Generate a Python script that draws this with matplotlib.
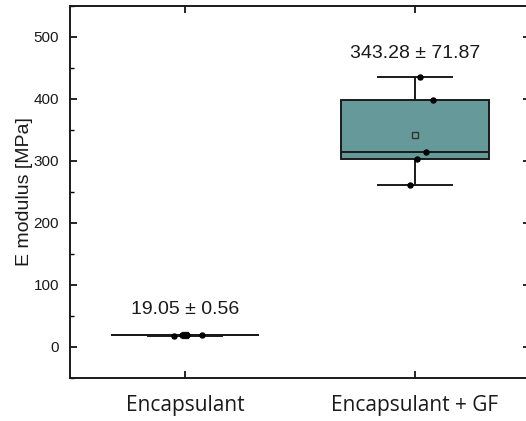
import matplotlib
matplotlib.use("Agg")
import matplotlib.pyplot as plt
import numpy as np
from matplotlib.ticker import MultipleLocator

categories = ["Encapsulant", "Encapsulant + GF"]
enc_values = [18.4, 19.5, 19.15, 19.0, 19.2]
gf_values = [435, 399, 314, 304, 261]
annotations = ["19.05 \u00b1 0.56", "343.28 \u00b1 71.87"]
annot_y = [60, 474]
jitter_enc = [-0.05, -0.012, -0.002, 0.075, 0.01]
jitter_gf = [0.022, 0.079, 0.048, 0.009, -0.022]

fig = plt.figure(figsize=(5.26, 4.21), dpi=100)
ax = fig.add_axes([70/526, 1-378/421, 460/526, 372/421])

box_color = "#669999"
edge = "#1a1a1a"
lw = 1.4
bp = ax.boxplot([enc_values, gf_values], positions=[1, 2], widths=0.646,
                whis=(0, 100), patch_artist=True, showmeans=True,
                showfliers=False,
                boxprops=dict(facecolor=box_color, edgecolor=edge, linewidth=lw),
                medianprops=dict(color=edge, linewidth=lw),
                whiskerprops=dict(color=edge, linewidth=lw),
                capprops=dict(color=edge, linewidth=lw),
                meanprops=dict(marker="s", markerfacecolor="none",
                               markeredgecolor="#333333", markersize=4,
                               markeredgewidth=1.0))
for cap in bp["caps"]:
    x = cap.get_xdata()
    c = (x[0] + x[1]) / 2
    cap.set_xdata([c - 0.163, c + 0.163])

for pos, vals, jit in [(1, enc_values, jitter_enc), (2, gf_values, jitter_gf)]:
    ax.plot([pos + j for j in jit], vals, "o", color="black", markersize=3.6, zorder=5)

for pos, txt, y in zip([1, 2], annotations, annot_y):
    ax.text(pos, y, txt, ha="center", va="center", fontsize=14,
            family="Liberation Sans", color="#1a1a1a")

ax.set_xlim(0.5, 2.5)
ax.set_ylim(-50, 550)
ax.set_xticks([1, 2])
ax.set_xticklabels(categories, fontsize=15, family="Open Sans", color="#1a1a1a")
ax.set_yticks([0, 100, 200, 300, 400, 500])
ax.yaxis.set_minor_locator(MultipleLocator(50))
for lbl in ax.get_yticklabels():
    lbl.set_family("Liberation Sans")
    lbl.set_fontsize(11)
    lbl.set_color("#1a1a1a")
ax.set_ylabel("E modulus [MPa]", fontsize=14, family="Liberation Sans",
              color="#1a1a1a", labelpad=0)
ax.tick_params(axis="both", which="major", direction="in", length=5, width=1.2,
               top=True, right=True, pad=8)
ax.tick_params(axis="y", which="minor", direction="in", length=3, width=1.0, right=False)
ax.tick_params(axis="x", pad=12)
for s in ax.spines.values():
    s.set_linewidth(1.4)
    s.set_color("#1a1a1a")

fig.savefig("out.png", dpi=100)
